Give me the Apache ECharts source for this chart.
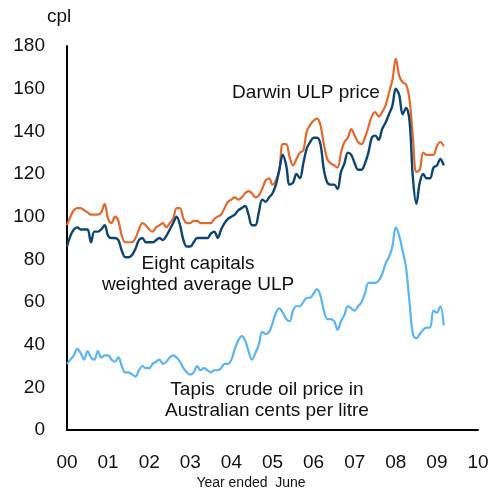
<!DOCTYPE html>
<html>
<head>
<meta charset="utf-8">
<script src="https://cdn.jsdelivr.net/npm/echarts@6/dist/echarts.min.js"></script>
<style>
  html, body { margin: 0; padding: 0; background: #fff; }
  #chart { width: 500px; height: 493px; }
</style>
</head>
<body>
<div id="chart"></div>
<script>
// year labels on the x axis (one tick every 12 months)
var yearLabels = ['00', '01', '02', '03', '04', '05', '06', '07', '08', '09', '10']

// monthly values, cents per litre
var darwin = [
  96, 100, 103, 104, 104, 103, 102, 101, 101, 101, 102, 106,
  99, 97, 100, 98, 91, 88, 88, 88, 90, 94, 97, 96,
  94, 93, 95, 96, 97, 95, 97, 99, 104, 104, 99, 97,
  97, 98, 98, 97, 97, 97, 97, 99, 100, 101, 104, 107,
  108, 109, 108, 109, 111, 112, 111, 109, 110, 113, 117, 118,
  115, 117, 122, 134, 134, 128, 124, 127, 130, 131, 140, 143,
  145, 146, 143, 134, 127, 125, 124, 123, 130, 135, 137, 141,
  138, 135, 134, 137, 142, 147, 149, 147, 149, 152, 158, 164,
  174, 166, 163, 162, 155, 137, 121, 122, 130, 129, 129, 129,
  133, 135, 133
]
var eightCapitals = [
  86, 91, 94, 95, 94, 94, 94, 88, 93, 93, 94, 96,
  91, 90, 90, 89, 84, 81, 81, 82, 85, 89, 90, 88,
  88, 88, 89, 90, 89, 91, 94, 97, 100, 96, 89, 86,
  86, 88, 90, 90, 90, 90, 92, 93, 90, 94, 97, 99,
  100, 101, 103, 104, 105, 101, 96, 96, 102, 108, 107, 109,
  111, 115, 122, 129, 124, 115, 116, 120, 118, 125, 132, 135,
  137, 137, 134, 122, 116, 115, 115, 113, 121, 125, 130, 129,
  125, 122, 122, 125, 130, 137, 138, 136, 141, 144, 148, 152,
  160, 157, 148, 151, 145, 118, 106, 116, 120, 118, 118, 123,
  124, 127, 124
]
var tapis = [
  31, 33, 35, 38, 36, 33, 37, 34, 33, 37, 34, 35,
  35, 33, 32, 34, 30, 27, 27, 26, 25, 28, 30, 29,
  29, 31, 32, 33, 31, 32, 34, 35, 34, 32, 29, 27,
  26, 27, 30, 28, 29, 28, 27, 28, 28, 29, 31, 31,
  33, 38, 42, 44, 42, 37, 33, 36, 40, 46, 45, 46,
  50, 55, 57, 55, 52, 51, 56, 58, 58, 60, 62, 62,
  64, 66, 63, 56, 52, 52, 51, 47, 51, 54, 58, 57,
  56, 58, 60, 64, 69, 69, 69, 70, 73, 78, 81, 86,
  95, 91, 84, 76, 60, 45, 43, 45, 47, 48, 48, 56,
  55, 58, 49
]

var font = '"Liberation Sans", Arial, sans-serif'

function pairs(arr) {
  return arr.map(function(v, i) { return [i, v] })
}

// annotation text helper
function note(txt, x, y, size) {
  return {
    type: 'text', x: x, y: y,
    style: { text: txt, font: (size || 19) + 'px ' + font, fill: '#111', align: 'center', verticalAlign: 'middle' }
  }
}

var myChart = echarts.init(document.getElementById('chart'))

var option = {
  animation: false,
  grid: { left: 67, right: 22, top: 46, bottom: 63 },
  xAxis: {
    type: 'value',
    min: 0,
    max: 120,
    interval: 12,
    axisLine: { show: true, lineStyle: { color: '#000', width: 2 } },
    axisTick: { show: false },
    splitLine: { show: false },
    axisLabel: {
      margin: 23,
      fontSize: 19,
      color: '#111',
      fontFamily: font,
      formatter: function(v) { return yearLabels[v / 12] }
    }
  },
  yAxis: {
    type: 'value',
    min: 0,
    max: 180,
    interval: 20,
    axisLine: { show: true, lineStyle: { color: '#000', width: 2 } },
    axisTick: { show: false },
    splitLine: { show: false },
    axisLabel: { margin: 22, fontSize: 19, color: '#111', fontFamily: font }
  },
  series: [
    {
      name: 'Tapis',
      type: 'line',
      data: pairs(tapis),
      showSymbol: false,
      smooth: 0.35,
      lineStyle: { color: '#5BB4F3', width: 2.2 }
    },
    {
      name: 'Darwin',
      type: 'line',
      data: pairs(darwin),
      showSymbol: false,
      smooth: 0.35,
      lineStyle: { color: '#E4682C', width: 2.2 }
    },
    {
      name: 'Eight capitals',
      type: 'line',
      data: pairs(eightCapitals),
      showSymbol: false,
      smooth: 0.35,
      lineStyle: { color: '#0D4572', width: 2.4 }
    }
  ],
  graphic: [
    { type: 'text', left: 47, top: 7, style: { text: 'cpl', font: '19px ' + font, fill: '#111' } },
    note('Darwin ULP price', 306, 93),
    note('Eight capitals', 198, 264),
    note('weighted average ULP', 198, 285),
    note('Tapis  crude oil price in', 267, 390),
    note('Australian cents per litre', 267, 411),
    note('Year ended  June', 251, 483, 14)
  ]
}

myChart.setOption(option)
</script>
</body>
</html>
